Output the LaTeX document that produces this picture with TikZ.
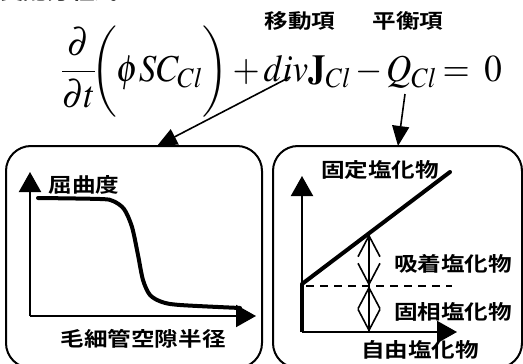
\documentclass[tikz,border=0pt]{standalone}
\usepackage{amsmath}
\usepackage{mathptmx}
\usepackage[no-math]{fontspec}
\setmainfont{Liberation Serif}
\newfontfamily\jpfont{Noto Sans CJK JP}[BoldFont={Noto Sans CJK JP Bold}]
\usetikzlibrary{arrows.meta,positioning}

\begin{document}
\begin{tikzpicture}[x=1pt,y=-1pt,
  jp/.style={font=\jpfont\bfseries\fontsize{20}{22}\selectfont, xscale=1.18, transform shape, inner sep=0pt},
  panel/.style={draw, line width=2pt, rounded corners=25pt, inner sep=0pt},
  axis/.style={line width=2pt, -{Triangle[length=20pt,width=22pt]}},
  arr/.style={line width=1.6pt, -{Triangle[length=20pt,width=17pt]}},
  curve/.style={line width=4pt, line cap=round},
  dbl/.style={line width=1.6pt, {Straight Barb[length=21pt,width=22pt]}-{Straight Barb[length=21pt,width=22pt]}},
]
\useasboundingbox (0,0) rectangle (523,364);
\clip (0,0) rectangle (523,364);

% --- heading and equation ---
\node[jp, anchor=west] (title) at (0,-8) {支配方程式};
\node[anchor=base west, inner sep=0pt, xscale=0.92, transform shape] (eq) at (62,81)
  {\fontsize{38}{42}\selectfont\medmuskip=2mu\thickmuskip=3mu\nulldelimiterspace=0pt
   $\dfrac{\partial}{\partial t}\!\biggl(\phi S C_{Cl}\biggr) + div\mathbf{J}_{Cl} - Q_{Cl} =\ 0$};
\node[jp] (moveterm) at (300,21) {移動項};
\node[jp] (balterm) at (408,21) {平衡項};

% --- panels ---
\node[panel, minimum width=256pt, minimum height=222pt, anchor=north west] (lbox) at (5,145) {};
\node[panel, minimum width=249pt, minimum height=222pt, anchor=north west] (rbox) at (272,145) {};

\coordinate (divtail) at (290,77);
\coordinate (ltip) at (157,146);
\coordinate (qtail) at (405,94);
\coordinate (rtip) at (398,146);
\draw[arr] (divtail) -- (ltip);
\draw[arr] (qtail) -- (rtip);

% --- left plot ---
\coordinate (lorig) at (30,316);
\coordinate (lyend) at (30,172);
\coordinate (lxend) at (256,316);
\draw[axis] (lorig) -- (lyend);
\draw[axis] (lorig) -- (lxend);
\node[jp] (tort) at (84,185) {屈曲度};
\node[jp] (radius) at (143,339) {毛細管空隙半径};
\draw[curve] plot[smooth] coordinates {(38,198) (100,199) (113,201) (124,209) (132,227) (138,255) (143,280) (150,295) (162,302) (180,305) (240,308)};

% --- right plot ---
\coordinate (rorig) at (302,332);
\coordinate (ryend) at (302,176);
\coordinate (rxend) at (457,332);
\coordinate (rkink) at (302,284);
\coordinate (rtop) at (450,172);
\coordinate (rdash) at (452,286);
\coordinate (rmid) at (369,286);
\coordinate (rhigh) at (369,234);
\coordinate (rlow) at (369,332);
\draw[axis] (rorig) -- (ryend);
\draw[axis] (rorig) -- (rxend);
\draw[line width=4.5pt] (rorig) -- (rkink);
\draw[line width=4pt, line cap=round] (rkink) -- (rtop);
\draw[line width=1.3pt, dashed, dash pattern=on 8pt off 6pt] (306,286) -- (rdash);
\draw[line width=1.6pt] (rhigh) -- (rlow);
\draw[dbl] (rhigh) -- (rmid);
\draw[dbl] (rmid) -- (rlow);
\node[jp] (fixed) at (380,170) {固定塩化物};
\node[jp] (adsorb) at (453,264) {吸着塩化物};
\node[jp] (solid) at (453,312) {固相塩化物};
\node[jp] (free) at (420,350) {自由塩化物};
\end{tikzpicture}
\end{document}
